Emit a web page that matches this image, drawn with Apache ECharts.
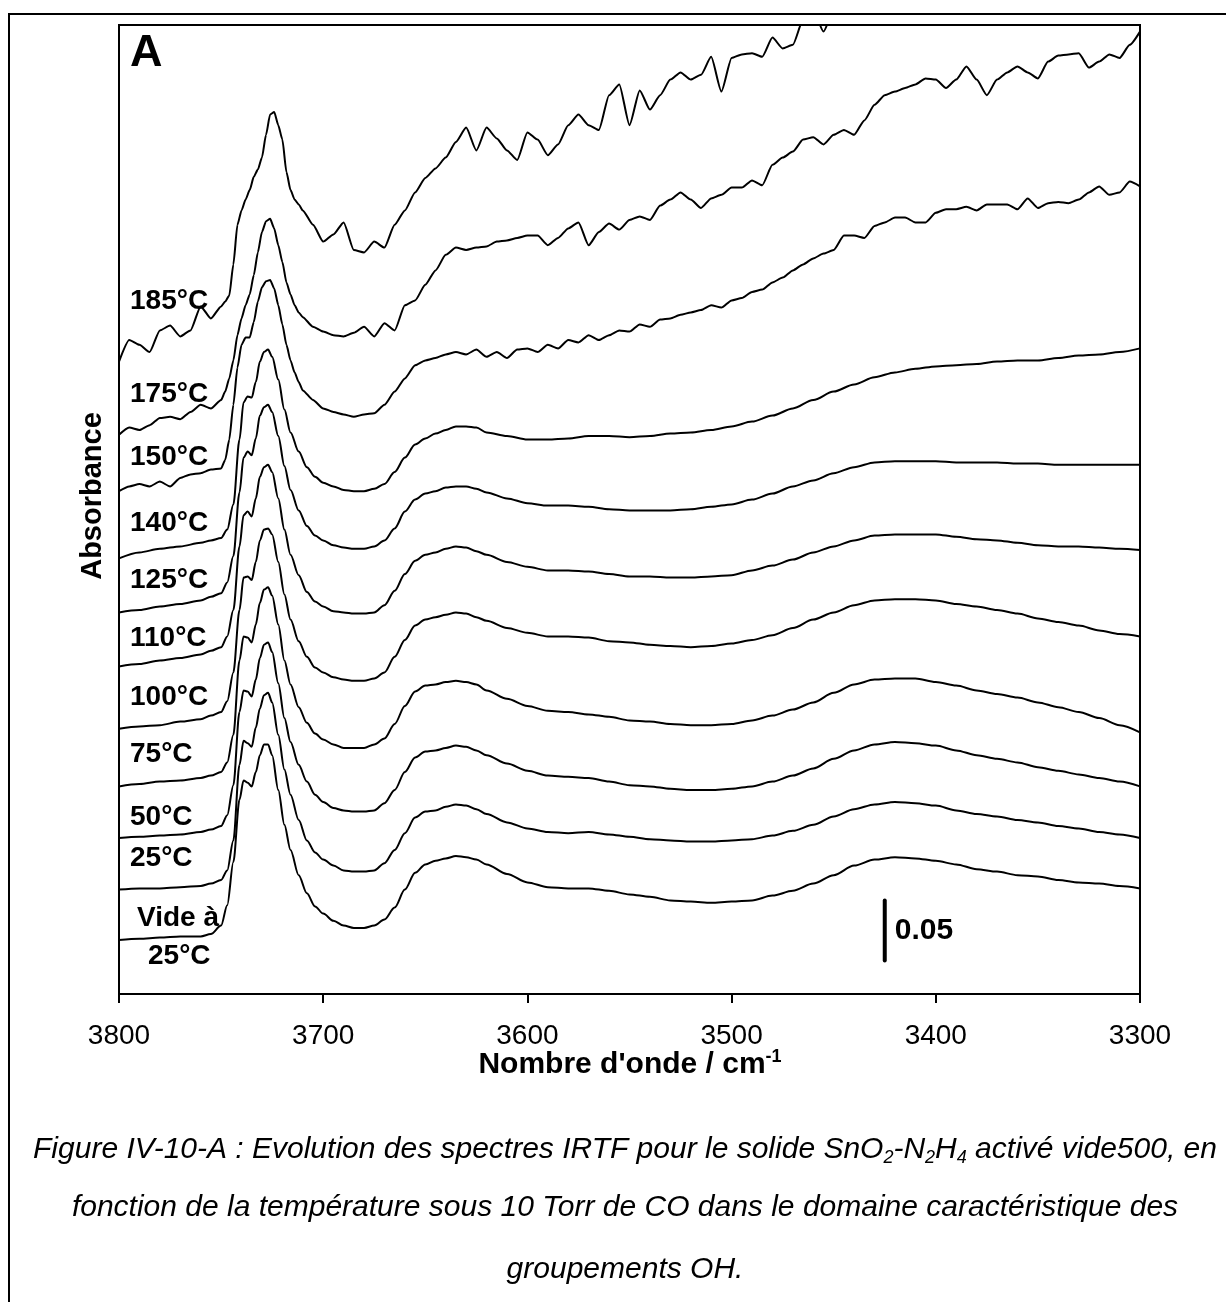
<!DOCTYPE html>
<html><head><meta charset="utf-8">
<script src="https://cdn.jsdelivr.net/npm/echarts@6/dist/echarts.min.js"></script>
<style>html,body{margin:0;padding:0;background:#fff}#c{width:1226px;height:1302px}</style>
</head><body><div id="c"></div>
<script>
// Wavenumber grids (cm-1)
const wavenumberCoarse = [3800,3790,3780,3770,3760,3755,3750,3747,3744,3741,3739,3737,3735,3733,3731,3729,3727,3725,3722,3719,3716,3712,3708,3704,3700,3695,3690,3685,3680,3675,3670,3665,3660,3655,3650,3645,3640,3635,3630,3625,3620,3610,3600,3590,3580,3570,3560,3550,3540,3530,3520,3510,3500,3490,3480,3470,3460,3450,3440,3430,3420,3410,3400,3390,3380,3370,3360,3350,3340,3330,3320,3310,3300];
const wavenumberFine = [3800,3795,3790,3785,3780,3775,3770,3765,3760,3755,3750,3748,3746,3744,3742,3740,3738,3736,3734,3732,3730,3728,3726,3724,3722,3720,3718,3716,3714,3712,3710,3705,3700,3695,3690,3685,3680,3675,3670,3665,3660,3655,3650,3645,3640,3635,3630,3625,3620,3615,3610,3605,3600,3595,3590,3585,3580,3575,3570,3565,3560,3555,3550,3545,3540,3535,3530,3525,3520,3515,3510,3505,3500,3495,3490,3485,3480,3475,3470,3465,3460,3455,3450,3445,3440,3435,3430,3425,3420,3415,3410,3405,3400,3395,3390,3385,3380,3375,3370,3365,3360,3355,3350,3345,3340,3335,3330,3325,3320,3315,3310,3305,3300];
const xTickLabels = ['3800','3700','3600','3500','3400','3300'];

// Absorbance values in mAbs (stacked spectra, offsets included)
const abs185 = [527,545,541,535,553,557,548,553,573,563,573,577,582,608,641,653,662,670,681,687,697,716,733,735,724,712,685,670,662,658,653,641,627,633,643,620,618,627,622,641,653,668,680,688,697,710,722,703,722,713,703,695,718,712,699,708,724,733,724,720,749,758,724,753,737,749,762,768,762,766,781,752,780,783,784,781,797,788,791,812,820,802,820,837,null,null,null,null,null,null,null,null,null,null,null,null,null,null,null,null,null,null,null,null,null,null,null,null,null];
const abs175 = [466,472,470,474,480,481,479,485,491,488,495,502,513,528,549,563,574,583,599,618,635,644,646,638,624,610,593,583,574,568,564,556,552,549,548,551,556,548,559,553,574,578,591,603,616,622,620,622,623,627,628,630,632,632,624,630,638,643,624,635,642,637,645,648,645,657,662,668,662,655,663,666,672,672,678,674,691,697,702,712,714,708,716,720,716,728,741,749,752,755,758,763,762,755,762,773,762,749,762,768,773,768,763,777,782,783,784,772,777,783,780,791,802];
const abs150 = [419,423,425,423,427,423,430,433,434,437,438,445,462,491,522,541,547,547,560,577,589,594,595,588,574,558,541,528,518,510,503,495,488,485,483,481,483,484,491,502,513,524,528,530,533,535,533,537,531,535,530,537,538,535,541,538,545,543,549,545,549,553,552,558,556,562,563,566,568,570,574,572,578,580,585,587,593,597,603,608,613,617,620,632,632,630,640,643,647,647,643,643,651,654,654,656,653,658,658,658,654,663,655,659,660,659,662,668,673,666,668,677,673];
const abs140 = [363,368,371,373,376,378,380,387,408,462,493,498,497,510,527,535,537,531,512,487,468,452,439,431,426,423,420,419,419,421,425,435,447,458,463,467,470,473,473,472,468,465,462,462,463,465,465,464,465,467,468,470,473,477,482,488,495,502,508,514,518,521,523,524,525,527,528,528,530,532,533,535,538];
const abs125 = [318,320,323,325,328,331,334,343,365,418,447,452,449,463,482,489,491,485,465,440,420,403,390,382,378,374,372,371,371,373,378,388,402,412,417,419,422,423,423,421,418,413,409,407,407,406,404,403,403,403,404,406,408,412,417,423,428,434,439,443,444,444,444,443,443,443,442,442,441,441,441,441,441];
const abs110 = [273,275,278,280,283,286,289,298,320,373,399,402,398,413,431,439,441,435,413,387,366,349,335,327,323,319,318,317,317,318,324,336,350,361,366,368,371,373,372,369,366,360,356,353,353,352,350,348,348,347,347,348,349,353,357,362,368,373,378,382,383,383,383,381,379,378,376,374,373,373,372,371,370];
const abs100 = [221,223,224,227,229,232,235,244,268,320,347,348,345,360,378,387,388,383,360,333,312,294,281,272,268,264,262,261,261,263,268,281,295,307,312,314,316,318,317,314,311,305,301,298,298,297,294,293,291,290,289,290,292,295,299,305,312,318,324,328,329,329,328,325,323,320,317,313,310,307,303,300,298];
const abs75 = [173,175,177,178,180,182,185,193,216,278,298,297,293,308,326,337,339,332,308,278,258,239,226,217,212,208,205,205,205,208,213,225,240,252,257,258,260,261,260,258,253,246,240,236,235,233,231,228,227,225,224,224,225,228,232,237,243,251,258,262,263,263,260,257,253,250,247,243,239,235,230,224,218];
const abs50 = [130,131,132,133,135,137,140,149,174,235,253,252,248,262,280,291,293,285,259,230,210,191,177,166,160,155,153,152,152,153,159,170,185,197,202,203,205,207,206,203,199,192,186,182,181,180,177,174,173,171,170,170,171,173,177,182,188,196,203,208,210,209,207,203,199,196,193,189,186,183,180,177,173];
const abs25 = [87,88,88,89,90,92,95,103,128,191,211,209,206,222,238,249,251,243,216,187,166,145,128,118,112,107,103,102,102,103,109,120,134,147,152,153,156,158,157,154,150,143,138,135,134,135,133,131,129,128,127,127,128,129,132,136,141,148,154,158,160,159,157,153,150,148,145,143,140,138,135,133,130];
const absVide = [45,46,47,48,48,50,57,74,110,162,178,176,173,185,199,208,208,199,170,141,120,99,84,73,67,61,57,55,55,57,62,72,87,101,108,111,113,115,114,112,108,100,93,89,88,88,86,83,81,78,77,76,77,78,82,86,92,99,107,112,114,113,111,108,104,102,99,98,95,93,92,90,88];

const curveNames = ['185°C','175°C','150°C','140°C','125°C','110°C','100°C','75°C','50°C','25°C','Vide à 25°C'];
const curveData = [abs185, abs175, abs150, abs140, abs125, abs110, abs100, abs75, abs50, abs25, absVide];
const curveGrid = ['fine','fine','fine','coarse','coarse','coarse','coarse','coarse','coarse','coarse','coarse'];

// Scale bar: 0.05 absorbance = 50 mAbs
const scaleBarWavenumber = 3425;
const scaleBarBase = 28;
const scaleBarLength = 50;
const scaleBarText = '0.05';

const FONT = '"Liberation Sans", Arial, Helvetica, sans-serif';

const chart = echarts.init(document.getElementById('c'), null, {renderer: 'canvas', width: 1226, height: 1302});

const series = curveData.map((vals, k) => {
  const xs = curveGrid[k] === 'fine' ? wavenumberFine : wavenumberCoarse;
  return {
    name: curveNames[k],
    type: 'line',
    data: xs.map((w, i) => [w, vals[i] == null ? '-' : vals[i]]),
    showSymbol: false,
    smooth: curveGrid[k] === 'fine' ? 0.2 : 0.3,
    smoothMonotone: 'x',
    connectNulls: false,
    clip: true,
    lineStyle: {color: '#000', width: 2},
    itemStyle: {color: '#000'},
    silent: true,
    animation: false
  };
});

series.push({
  type: 'line',
  data: [[scaleBarWavenumber, scaleBarBase], [scaleBarWavenumber, scaleBarBase + scaleBarLength]],
  showSymbol: false,
  lineStyle: {color: '#000', width: 4, cap: 'round'},
  silent: true, animation: false
});
series.push({
  type: 'scatter',
  data: [[scaleBarWavenumber, scaleBarBase + scaleBarLength / 2]],
  symbolSize: 0,
  label: {show: true, position: 'right', distance: 10, formatter: scaleBarText,
    fontFamily: FONT, fontWeight: 'bold', fontSize: 30, color: '#000', textBorderWidth: 0, opacity: 1},
  silent: true, animation: false
});

const labelPos = [
  ['185°C', 130, 301], ['175°C', 130, 394], ['150°C', 130, 457], ['140°C', 130, 523],
  ['125°C', 130, 580], ['110°C', 130, 638], ['100°C', 130, 697], ['75°C', 130, 754],
  ['50°C', 130, 817], ['25°C', 130, 858], ['Vide à', 137, 918], ['25°C', 148, 956]
];

const graphics = [
  {type: 'rect', shape: {x: 9, y: 14, width: 1240, height: 1400}, style: {fill: 'none', stroke: '#000', lineWidth: 2}, silent: true},
  {type: 'text', x: 130, y: 54, style: {text: 'A', font: 'bold 45px ' + FONT, fill: '#000', verticalAlign: 'middle', align: 'left'}},
  {type: 'text', x: 93, y: 496, rotation: Math.PI / 2, style: {text: 'Absorbance', font: 'bold 29px ' + FONT, fill: '#000', align: 'center', verticalAlign: 'middle'}},
  {type: 'text', x: 630, y: 1065, style: {
    text: "Nombre d'onde / cm{sup|-1}", font: 'bold 30px ' + FONT, fill: '#000', align: 'center', verticalAlign: 'middle',
    rich: {sup: {fontSize: 18, fontWeight: 'bold', fontFamily: FONT, fill: '#000', padding: [0, 0, 16, 0]}}}},
  {type: 'text', x: 625, y: 1150, style: {
    text: 'Figure IV-10-A : Evolution des spectres IRTF pour le solide SnO{sub|2}-N{sub|2}H{sub|4} activé vide500, en',
    font: 'italic 30px ' + FONT, fill: '#000', align: 'center', verticalAlign: 'middle',
    rich: {sub: {fontSize: 18, fontStyle: 'italic', fontFamily: FONT, fill: '#000', padding: [16, 0, 0, 0]}}}},
  {type: 'text', x: 625, y: 1208, style: {
    text: 'fonction de la température sous 10 Torr de CO dans le domaine caractéristique des',
    font: 'italic 30px ' + FONT, fill: '#000', align: 'center', verticalAlign: 'middle'}},
  {type: 'text', x: 625, y: 1270, style: {
    text: 'groupements OH.', font: 'italic 30px ' + FONT, fill: '#000', align: 'center', verticalAlign: 'middle'}}
];
labelPos.forEach(([t, x, y]) => graphics.push({type: 'text', x: x, y: y,
  style: {text: t, font: 'bold 28px ' + FONT, fill: '#000', align: 'left', verticalAlign: 'middle'}}));

chart.setOption({
  animation: false,
  backgroundColor: '#fff',
  grid: {left: 119, top: 25, right: 86, bottom: 308, show: true, borderColor: '#000', borderWidth: 2, backgroundColor: 'transparent'},
  xAxis: {
    type: 'value', min: 3300, max: 3800, interval: 100, inverse: true,
    axisLine: {show: true, lineStyle: {color: '#000', width: 2}},
    axisTick: {show: true, inside: false, length: 9, lineStyle: {color: '#000', width: 2}},
    axisLabel: {show: true, color: '#000', fontSize: 28, fontFamily: FONT, margin: 28,
      formatter: v => xTickLabels.find(t => Number(t) === v) || String(v)},
    splitLine: {show: false}
  },
  yAxis: {
    type: 'value', min: 0, max: 807.5,
    axisLine: {show: true, lineStyle: {color: '#000', width: 2}},
    axisTick: {show: false}, axisLabel: {show: false}, splitLine: {show: false}
  },
  series: series,
  graphic: graphics
});
</script>
</body></html>
